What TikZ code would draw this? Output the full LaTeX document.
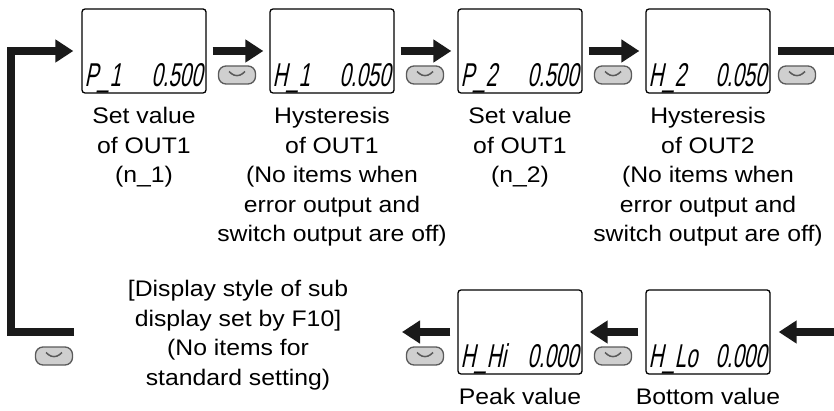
\documentclass[tikz,border=0pt]{standalone}
\usepackage{fontspec}
\setmainfont[FakeStretch=1.1]{Liberation Sans}
\newfontfamily\lcdfont[FakeStretch=0.62,FakeSlant=0.2]{Liberation Sans}
\usetikzlibrary{arrows.meta, positioning, calc}
\definecolor{keygray}{HTML}{CFCFCF}
\definecolor{keyedge}{HTML}{5A5A5A}
\definecolor{flowblack}{HTML}{1A1A1A}

\begin{document}
\begin{tikzpicture}[
    x=1pt, y=1pt,
    lcd/.style={draw, line width=1.3pt, rounded corners=3pt, minimum width=124pt, minimum height=84pt, inner sep=0pt},
    seg/.style={font=\lcdfont\fontsize{33}{33}\selectfont, inner sep=0pt},
    keybtn/.style={draw=keyedge, fill=keygray, line width=1.3pt, rounded corners=7.5pt,
        minimum width=37pt, minimum height=18pt, inner sep=0pt,
        path picture={\draw[keyedge, line width=1.5pt]
            ([xshift=-8pt,yshift=3.5pt]path picture bounding box.center)
            -- ([yshift=-3.5pt]path picture bounding box.center)
            -- ([xshift=8pt,yshift=3.5pt]path picture bounding box.center);}},
    flow/.style={flowblack, line width=8pt, -{Triangle[length=18pt,width=22pt]}},
    bar/.style={flowblack, line width=8pt},
    caption/.style={font=\fontsize{22.5}{29.5}\selectfont, align=center, anchor=north, inner sep=0pt}
]
    \useasboundingbox (0,0) rectangle (834,410);

    % displays, top row
    \node[lcd] (p1) at (144,359) {};
    \node[lcd] (h1) at (332,359) {};
    \node[lcd] (p2) at (520,359) {};
    \node[lcd] (h2) at (708,359) {};
    % displays, bottom row
    \node[lcd] (hhi) at (520,78) {};
    \node[lcd] (hlo) at (708,78) {};

    % display readings
    \node[seg, anchor=base west] (p1a) at ([shift={(3,7)}]p1.south west) {P\_1};
    \node[seg, anchor=base east] (p1b) at ([shift={(-4,7)}]p1.south east) {0.500};
    \node[seg, anchor=base west] (h1a) at ([shift={(3,7)}]h1.south west) {H\_1};
    \node[seg, anchor=base east] (h1b) at ([shift={(-4,7)}]h1.south east) {0.050};
    \node[seg, anchor=base west] (p2a) at ([shift={(3,7)}]p2.south west) {P\_2};
    \node[seg, anchor=base east] (p2b) at ([shift={(-4,7)}]p2.south east) {0.500};
    \node[seg, anchor=base west] (h2a) at ([shift={(3,7)}]h2.south west) {H\_2};
    \node[seg, anchor=base east] (h2b) at ([shift={(-4,7)}]h2.south east) {0.050};
    \node[seg, anchor=base west] (hhia) at ([shift={(3,7)}]hhi.south west) {H\_Hi};
    \node[seg, anchor=base east] (hhib) at ([shift={(-4,7)}]hhi.south east) {0.000};
    \node[seg, anchor=base west] (hloa) at ([shift={(3,7)}]hlo.south west) {H\_Lo};
    \node[seg, anchor=base east] (hlob) at ([shift={(-4,7)}]hlo.south east) {0.000};

    % down keys
    \node[keybtn] (k1) at (237,335) {};
    \node[keybtn] (k2) at (425,335) {};
    \node[keybtn] (k3) at (613,335) {};
    \node[keybtn] (k4) at (797,335) {};
    \node[keybtn] (k5) at (425,54) {};
    \node[keybtn] (k6) at (613,54) {};
    \node[keybtn] (k7) at (54,54) {};

    % captions
    \node[caption] (c1) at ([yshift=-13.5pt]p1.south) {Set value\\of OUT1\\(n\_1)};
    \node[caption] (c2) at ([yshift=-13.5pt]h1.south) {Hysteresis\\of OUT1\\(No items when\\error output and\\switch output are off)};
    \node[caption] (c3) at ([yshift=-13.5pt]p2.south) {Set value\\of OUT1\\(n\_2)};
    \node[caption] (c4) at ([yshift=-13.5pt]h2.south) {Hysteresis\\of OUT2\\(No items when\\error output and\\switch output are off)};
    \node[caption] (c5) at ([yshift=-13.5pt]hhi.south) {Peak value};
    \node[caption] (c6) at ([yshift=-13.5pt]hlo.south) {Bottom value};
    \node[caption] (c7) at (238,130) {[Display style of sub\\display set by F10]\\(No items for\\standard setting)};

    % flow
    \coordinate (inR) at (834,78);
    \coordinate (outR) at (834,359);
    \coordinate (outL) at (402,78);
    \coordinate (lp) at (74,78);
    \draw[flow] ([xshift=6pt]p1.east) -- ([xshift=-6pt]h1.west);
    \draw[flow] ([xshift=6pt]h1.east) -- ([xshift=-6pt]p2.west);
    \draw[flow] ([xshift=6pt]p2.east) -- ([xshift=-6pt]h2.west);
    \draw[bar] ([xshift=7pt]h2.east) -- (outR);
    \draw[flow] (inR) -- ([xshift=8pt]hlo.east);
    \draw[flow] ([xshift=-7pt]hlo.west) -- ([xshift=7pt]hhi.east);
    \draw[flow] ([xshift=-7pt]hhi.west) -- (outL);
    \draw[flow] (lp) -| ([xshift=-70pt]p1.west) -- ([xshift=-8pt]p1.west);
\end{tikzpicture}
\end{document}
